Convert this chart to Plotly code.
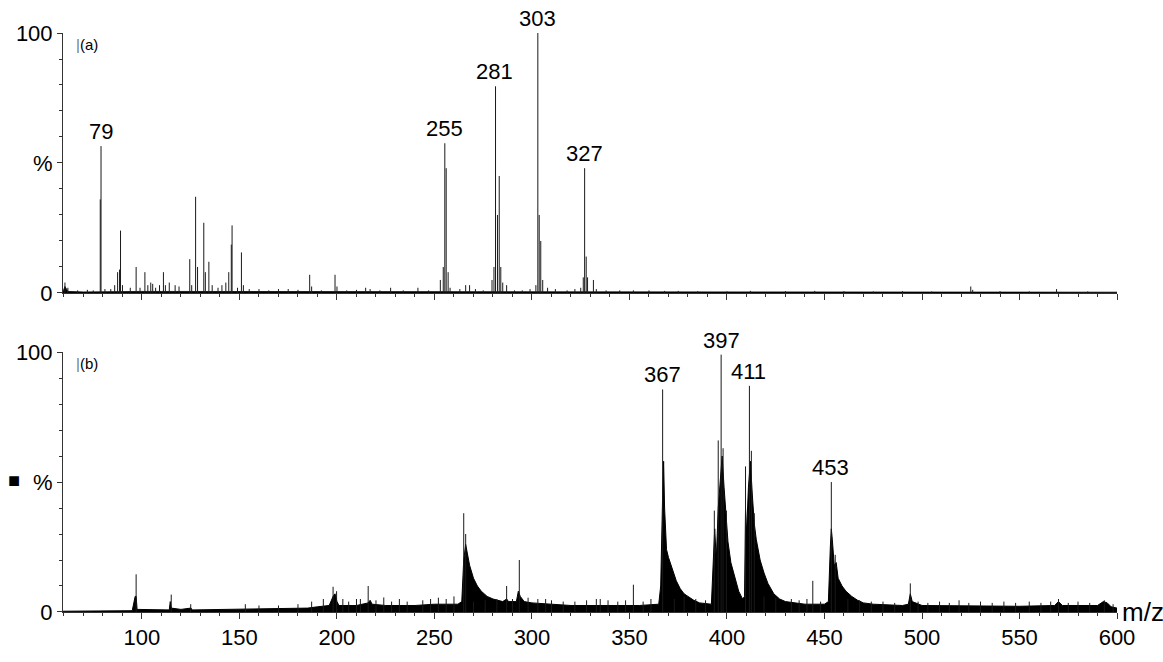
import plotly.graph_objects as go
from plotly.subplots import make_subplots

# ---------------- data ----------------
# panel (a): stick peaks (m/z, relative intensity %)
a_mz = [60.5, 62, 67, 72, 75, 78.6, 79, 81, 84, 86, 87.5, 88.5, 89, 90, 94, 97, 99, 101.5, 103, 104.5,
        105.5, 107, 109, 111, 112, 114, 117, 119, 124.5, 125.5, 127.5, 128.5, 131.7, 132.5, 134.3, 136,
        139, 141, 143, 144.5, 145.8, 146.2, 149, 151, 152, 155, 160, 165, 170, 175, 180, 186, 187, 192,
        199, 200, 205, 210, 214.7, 217, 222, 227.5, 234, 241.5, 247, 253, 254.5, 255.3, 256, 257, 258,
        263, 266, 268, 271, 275, 279.5, 280.5, 281.3, 282.3, 283.2, 284, 285, 287, 291, 295, 299, 302,
        303, 303.7, 304.5, 305.5, 308, 312, 318, 322, 325, 326.3, 327, 327.8, 328.5, 331.5, 333, 338,
        345, 352, 360, 368, 375, 385, 400, 412, 430, 445, 460, 475, 490, 505, 525, 526, 540, 555, 569, 585]
a_int = [4, 2, 1, 1.2, 1, 36, 56.5, 1.5, 1.5, 3, 8, 9, 24, 3, 2, 10, 2, 8, 3, 4,
         3.5, 2, 3, 8, 3, 4, 3, 2.5, 13, 3, 37, 10, 27, 8, 12, 3,
         2, 3, 4, 8, 18.6, 26, 2, 15.6, 3, 1.5, 1.5, 1, 1.5, 1.5, 1.2, 7, 2.5, 1,
         7, 2.5, 1, 1.2, 2, 1.5, 1, 2, 1, 2, 1, 5, 10, 57.6, 48, 8, 2,
         1.5, 3, 3, 1.5, 1, 5, 10, 79.5, 30, 45, 10, 4, 3, 1, 1, 1.5, 3,
         100, 30, 20, 5, 2, 1.5, 1, 1.5, 2, 6, 48, 14, 6, 5, 1.5, 1,
         1, 1, 1, 0.8, 0.8, 0.7, 0.6, 0.8, 0.7, 0.8, 0.7, 0.6, 0.7, 0.6, 2.5, 1.2, 0.7, 0.6, 1.5, 0.6]

# panel (a): baseline envelope
a_env_mz = [59.5, 60.5, 62, 70, 100, 150, 250, 300, 350, 400, 600]
a_env_int = [0.5, 2.5, 0.6, 0.4, 0.6, 0.6, 0.6, 0.6, 0.5, 0.4, 0.3]

# panel (b): filled envelope (profile)
b_env_mz = [59.5, 95, 96.5, 97, 97.5, 114, 114.5, 115, 120, 125, 126, 150, 180, 185, 190, 196, 198, 199, 200,
            201, 210, 216, 217, 218, 225, 240, 250, 262, 264, 265, 266, 267, 268, 270, 272, 274, 277, 280,
            285, 287, 288, 292, 293, 294, 296, 300, 320, 340, 355, 365, 366, 367, 367.5, 368, 369, 370, 372,
            374, 376, 378, 380, 383, 386, 390, 392, 393, 393.7, 394.5, 395.5, 396.5, 397.5, 398.5, 399.5,
            400.5, 402, 404, 406, 408, 409, 409.5, 410, 411, 412, 413, 414, 415, 417, 419, 421, 424, 427,
            430, 440, 450, 452, 453, 453.5, 454, 455, 456, 457, 459, 461, 464, 467, 470, 475, 490, 493, 494,
            495, 500, 550, 568, 570, 572, 590, 593, 595, 597, 600]
b_env_int = [0.3, 0.5, 6, 6, 1, 0.8, 4, 1.5, 1, 1.5, 0.8, 1, 1.2, 1.5, 2, 2.5, 6, 7, 4,
             2.5, 2.5, 3.5, 4.5, 3, 2.5, 2.5, 3, 3, 4, 20, 26, 22, 18, 13, 10, 8, 6, 5,
             4, 5, 4, 4, 8, 6, 4, 3.5, 2.5, 2.5, 2.5, 3, 10, 45, 58, 40, 24, 21, 16,
             12, 9, 7, 6, 4.5, 3.5, 3, 3, 20, 32, 20, 40, 50, 60, 48, 35,
             27, 19, 13, 8, 5, 6, 40, 30, 48, 58, 45, 34, 28, 20, 15, 11, 7, 5,
             4, 3, 3, 4, 25, 32, 28, 18, 19, 13, 10, 8, 6, 4.5, 3.5, 3, 2.5, 3, 7,
             4, 2.5, 2.2, 2.5, 4, 2.5, 2.5, 4, 3.5, 2, 1.5]

# panel (b): stick peaks and noise spikes
b_mz = [97, 115, 125, 153, 160, 170, 180, 187, 193, 198, 199.8, 203, 206, 210, 212, 216, 220, 224, 228, 232,
        236, 244, 248, 252, 256, 260, 265, 266, 270, 276, 282, 287, 290, 293.5, 298, 303, 307, 310, 316, 322,
        328, 333, 335, 339, 344, 348, 352, 357, 361, 367, 373, 378, 384, 389, 393.5, 395.5, 397, 398, 399.7,
        409.5, 411.5, 412.5, 414, 419, 425, 433, 437, 441, 444, 448, 453.5, 455.5, 462, 468, 474, 480, 486,
        494, 498, 503, 509, 514, 519, 524, 530, 536, 542, 548, 555, 561, 566, 570, 575, 580, 586, 593.5, 598]
b_int = [14.5, 6.7, 3, 3, 2.5, 2.5, 3, 4, 5, 9.7, 8, 5, 4, 5, 5, 10, 4.5, 5.6, 4, 5,
         4, 4.5, 5, 5.5, 5, 6, 38, 30, 4, 4.5, 5, 10, 5, 20, 5.5, 5, 5, 4.5, 4, 4,
         4.5, 5, 5, 4.5, 4, 4.5, 10.5, 4, 5, 85.6, 5, 6, 5, 4.5, 39, 66, 99, 63, 39,
         56, 87, 62, 38, 6, 5.5, 5, 4.5, 5, 12, 4, 50, 22, 5, 4.5, 4, 4, 3.5,
         11, 4, 3.5, 4, 3.5, 4.5, 3.5, 4, 3.5, 4, 3.5, 4, 3.5, 4, 5, 3.5, 4, 3.5, 4.5, 3]

a_labels = [79, 255, 281, 303, 327]
a_label_int = [56.5, 57.6, 79.5, 100, 48]
b_labels = [367, 397, 411, 453]
b_label_int = [85.6, 99, 87, 50]

x_ticks = [100, 150, 200, 250, 300, 350, 400, 450, 500, 550, 600]
y_tickvals = [0, 50, 100]
y_ticktext = ["0", "%", "100"]

# ---------------- figure ----------------
def sticks(mz, inten):
    xs, ys = [], []
    for m, h in zip(mz, inten):
        xs += [m, m, None]
        ys += [0, h, None]
    return xs, ys

fig = make_subplots(rows=2, cols=1, shared_xaxes=False, vertical_spacing=0.102)

FONT = "Liberation Sans, Arial, sans-serif"

# panel a
fig.add_trace(go.Scatter(x=a_env_mz, y=a_env_int, mode="lines", fill="tozeroy",
                         fillcolor="#000", line=dict(color="#000", width=0.8),
                         hoverinfo="skip", showlegend=False), row=1, col=1)
xs, ys = sticks(a_mz, a_int)
fig.add_trace(go.Scatter(x=xs, y=ys, mode="lines", line=dict(color="#1a1a1a", width=1),
                         hoverinfo="skip", showlegend=False), row=1, col=1)

# panel b
fig.add_trace(go.Scatter(x=b_env_mz, y=b_env_int, mode="lines", fill="tozeroy",
                         fillcolor="#000", line=dict(color="#000", width=1),
                         hoverinfo="skip", showlegend=False), row=2, col=1)
xs, ys = sticks(b_mz, b_int)
fig.add_trace(go.Scatter(x=xs, y=ys, mode="lines", line=dict(color="#1a1a1a", width=1),
                         hoverinfo="skip", showlegend=False), row=2, col=1)

axis_common = dict(showgrid=False, zeroline=False, showline=True, linecolor="#333", linewidth=1,
                   ticks="outside", tickcolor="#333", tickwidth=1,
                   tickfont=dict(family=FONT, size=22, color="#000"))

for r in (1, 2):
    fig.update_xaxes(range=[59.5, 600], tickvals=x_ticks, ticklen=6,
                     minor=dict(dtick=10, tick0=0, ticklen=3, ticks="outside", tickcolor="#333"),
                     showticklabels=(r == 2), row=r, col=1, **axis_common)
    fig.update_yaxes(range=[0, 100], tickvals=y_tickvals, ticktext=y_ticktext, ticklen=5,
                     minor=dict(dtick=10, tick0=0, ticklen=3, ticks="outside", tickcolor="#333"),
                     row=r, col=1, **axis_common)

fig.update_layout(
    width=1163, height=662,
    margin=dict(l=63, r=46, t=33, b=30),
    paper_bgcolor="white", plot_bgcolor="white",
    font=dict(family=FONT, color="#000"),
)

LBL = dict(family=FONT, size=22, color="#000")
ann = []
for m, h in zip(a_labels, a_label_int):
    ann.append(dict(x=m, y=h, xref="x", yref="y", text=str(m), showarrow=False,
                    yanchor="bottom", yshift=0, font=LBL))
for m, h in zip(b_labels, b_label_int):
    ann.append(dict(x=m, y=h, xref="x2", yref="y2", text=str(m), showarrow=False,
                    yanchor="bottom", yshift=0, font=LBL))
bar = '<span style="color:#777">|</span>'
ann.append(dict(x=65, y=95.5, xref="x", yref="y", text=bar + "(a)", showarrow=False, xanchor="left",
                font=dict(family=FONT, size=15, color="#000")))
ann.append(dict(x=65, y=95.5, xref="x2", yref="y2", text=bar + "(b)", showarrow=False, xanchor="left",
                font=dict(family=FONT, size=15, color="#000")))
ann.append(dict(x=1.003, y=0.0, xref="paper", yref="paper", text="m/z", showarrow=False,
                xanchor="left", yanchor="middle", font=dict(family=FONT, size=26, color="#000")))
ann.append(dict(x=-0.054, y=0.205, xref="paper", yref="paper", text="■", showarrow=False,
                font=dict(family=FONT, size=20, color="#000")))
fig.update_layout(annotations=ann)

fig.write_html("out.html")
